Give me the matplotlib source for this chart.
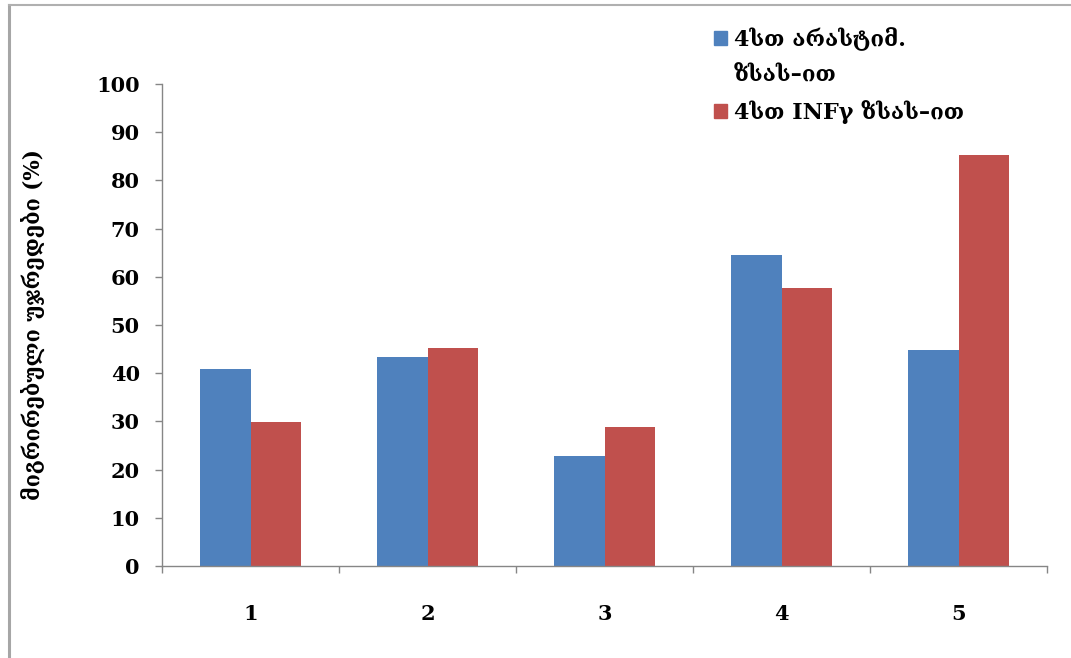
import matplotlib
matplotlib.use("Agg")
import matplotlib.pyplot as plt
from matplotlib.patches import Patch
from matplotlib.lines import Line2D
import numpy as np

categories = ["1", "2", "3", "4", "5"]
stim_4h = [40.8, 43.3, 22.8, 64.6, 44.9]      # 4სთ არასტიმ. ზსას–ით
infg_4h = [29.8, 45.3, 28.8, 57.6, 85.3]      # 4სთ INFγ ზსას–ით
yticks = list(range(0, 101, 10))

label_stim = ["4სთ არასტიმ.", "ზსას–ით"]
label_infg = "4სთ INFγ ზსას–ით"
ylabel = "მიგრირებული უჯრედები (%)"

BLUE = "#4F81BD"
RED = "#C0504D"
AXIS = "#868686"
FONT = ["DejaVu Serif", "DejaVu Sans"]

plt.rcParams["font.family"] = FONT
plt.rcParams["font.weight"] = "bold"

fig = plt.figure(figsize=(10.71, 6.58), dpi=100, facecolor="white")
ax = fig.add_axes([162 / 1071, 1 - 566 / 658, 885 / 1071, 482 / 658])

x = np.arange(len(categories))
w = 1 / 3.5
ax.bar(x - w / 2, stim_4h, width=w, color=BLUE, zorder=2)
ax.bar(x + w / 2, infg_4h, width=w, color=RED, zorder=2)

ax.set_xlim(-0.5, len(categories) - 0.5)
ax.set_ylim(0, 100)
ax.set_yticks(yticks)
ax.set_yticklabels([str(v) for v in yticks], fontsize=15, fontweight="bold")
ax.set_xticks(x)
ax.set_xticklabels(categories, fontsize=15, fontweight="bold")
ax.set_xticks(np.arange(len(categories) + 1) - 0.5, minor=True)

ax.tick_params(axis="y", direction="out", length=5, width=1, color=AXIS, pad=11)
ax.tick_params(axis="x", which="major", length=0, pad=27)
ax.tick_params(axis="x", which="minor", direction="out", length=5, width=1, color=AXIS)

for s in ("top", "right"):
    ax.spines[s].set_visible(False)
for s in ("left", "bottom"):
    ax.spines[s].set_color(AXIS)
    ax.spines[s].set_linewidth(1)

ax.set_ylabel(ylabel, fontsize=15.5, fontweight="bold")
ax.yaxis.set_label_coords(-0.132, 0.5)

handles = [Patch(color=BLUE), Patch(color="none"), Patch(color=RED)]
labels = [label_stim[0], label_stim[1], label_infg]
fig.legend(handles, labels, loc="upper left", bbox_to_anchor=(0.652, 0.982),
           frameon=False, handlelength=0.6, handleheight=0.6,
           handletextpad=0.3, labelspacing=0.6, borderpad=0.2,
           prop={"family": FONT, "weight": "bold", "size": 16})

# outer chart frame
fig.add_artist(Line2D([9 / 1071, 9 / 1071], [0, 1 - 5 / 658],
                      color="#A6A6A6", linewidth=2.2, transform=fig.transFigure))
fig.add_artist(Line2D([9 / 1071, 1], [1 - 5 / 658, 1 - 5 / 658],
                      color="#B0B0B0", linewidth=1.5, transform=fig.transFigure))

fig.savefig("out.png", dpi=100, facecolor="white")
